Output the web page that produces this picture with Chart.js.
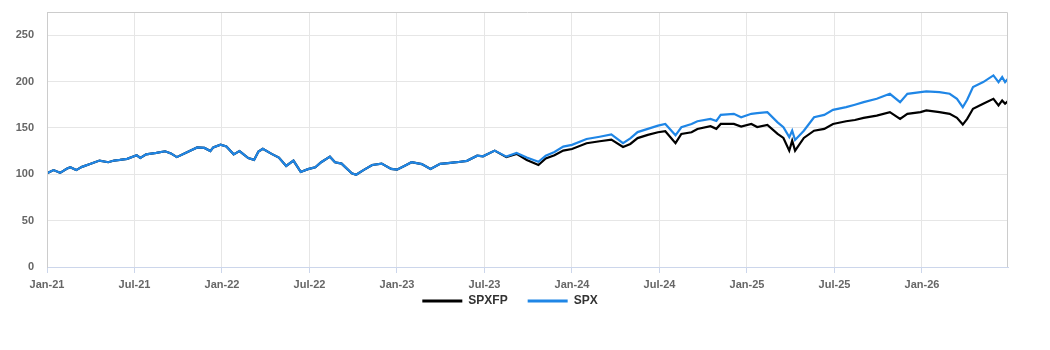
<!DOCTYPE html>
<html>
<head>
<meta charset="utf-8">
<script src="https://cdn.jsdelivr.net/npm/chart.js@4.4.1/dist/chart.umd.min.js"></script>
<style>
  html, body { margin: 0; padding: 0; background: #fff; }
  #wrap { width: 1050px; height: 350px; }
</style>
</head>
<body>
<div id="wrap"><canvas id="chart"></canvas></div>
<script>
// ---------- Datos ----------
// meses desde Jan-21
const months = [
  0, 0.45, 0.9, 1.35, 1.6, 2.0, 2.4, 2.95, 3.6, 4.2, 4.6, 5.0, 5.5, 6.15, 6.4, 6.8,
  7.5, 8.1, 8.5, 8.9, 9.6, 10.3, 10.8, 11.2, 11.4, 11.9, 12.3, 12.8, 13.2, 13.8, 14.2,
  14.5, 14.8, 15.4, 15.9, 16.4, 16.9, 17.4, 17.9, 18.4, 18.8, 19.4, 19.75, 20.2, 20.9,
  21.2, 21.7, 22.3, 22.95, 23.6, 24.0, 24.5, 25.0, 25.7, 26.3, 26.96, 27.5, 28.1, 28.8,
  29.5, 29.9, 30.7, 31.5, 32.2, 32.9, 33.7, 34.2, 34.8, 35.4, 36.0, 37.0, 37.9, 38.7,
  39.5, 40.0, 40.5, 41.2, 41.9, 42.4, 43.1, 43.5, 44.2, 44.6, 45.5, 45.9, 46.2, 47.1,
  47.6, 48.3, 48.7, 49.4, 50.1, 50.5, 50.9, 51.1, 51.3, 51.9, 52.6, 53.3, 53.9, 54.8,
  55.4, 56.0, 56.9, 57.8, 58.5, 59.0, 59.9, 60.3, 61.2, 61.9, 62.4, 62.8, 63.1, 63.5,
  64.2, 64.9, 65.25, 65.5, 65.7, 65.9
];

const spx = [
  101, 104.5, 101.5, 106, 107.5, 104.5, 108, 111, 114.8, 113, 114.8, 115.5, 116.6, 120.5, 117.6, 121.5,
  123, 124.8, 122.5, 118.5, 123.8, 129, 128.4, 125, 129, 132, 130, 121.5, 125, 117.5, 115.5,
  124.5, 127.4, 122, 118, 109, 114.8, 102.5, 105.5, 107.6, 113, 119, 113, 111.5, 101,
  99.5, 104.5, 110, 111.5, 105.8, 105, 109, 113, 111, 105.8, 111.2, 112, 113, 114.5,
  120, 119.4, 125.5, 119, 123, 118, 113.5, 120, 124, 129.9, 131.7, 138, 140.5, 143,
  133.5, 138.8, 145.5, 149, 152.5, 154.3, 142, 150.7, 154.3, 157.2, 159.7, 157.5, 164, 165.2,
  161.5, 165.2, 165.9, 167, 156, 150.7, 140, 147, 137, 147, 161.5, 164, 169.5, 172.4,
  175, 177.8, 181.4, 186.8, 177.8, 186.8, 188.6, 189.3, 188.6, 186.8, 181.4, 172.4, 180.3, 194,
  199.4, 206.6, 199.4, 204.8, 199.4, 203
];

const spxfp = [
  101, 104.5, 101.5, 106, 107.5, 104.5, 108, 111, 114.8, 113, 114.8, 115.5, 116.6, 120.5, 117.6, 121.5,
  123, 124.8, 122.5, 118.5, 123.8, 129, 128.4, 125, 129, 132, 130, 121.5, 125, 117.5, 115.5,
  124.5, 127.4, 122, 118, 109, 114.8, 102.5, 105.5, 107.6, 113, 119, 113, 111.5, 101,
  99.5, 104.5, 110, 111.5, 105.8, 105, 109, 113, 111, 105.8, 111.2, 112, 113, 114.5,
  120, 119.4, 125.5, 118.5, 122, 115.5, 110, 117, 120.5, 125.5, 127.3, 133.5, 135.6, 137.4,
  129.5, 132.7, 139, 142.5, 145.3, 146.4, 133.5, 143.5, 145.3, 148.9, 151.8, 149, 154.3, 154.3,
  151.4, 154.3, 151, 153.2, 143.5, 139.2, 125.5, 136.3, 125.5, 139.2, 147, 149, 154.3, 157.2,
  158.5, 160.8, 163.3, 167, 159.7, 165.2, 167, 168.8, 167, 165.2, 160.8, 153.6, 159.7, 170.6,
  176, 181.4, 174.2, 179.6, 176, 178.9
];

const tickMonths = [0, 6, 12, 18, 24, 30, 36, 42, 48, 54, 60];
const tickLabels = ["Jan-21", "Jul-21", "Jan-22", "Jul-22", "Jan-23", "Jul-23",
                    "Jan-24", "Jul-24", "Jan-25", "Jul-25", "Jan-26"];
const yTicks = [0, 50, 100, 150, 200, 250];

// ---------- Helpers ----------
function toPoints(vals) {
  return vals.map((v, i) => ({ x: months[i], y: v }));
}

// marco del área del gráfico + recolocar la leyenda
const frame = {
  id: 'frame',
  afterLayout(chart) {
    chart.legend.top -= 16;
    chart.legend.bottom -= 16;
    chart.legend.left += 6;
    chart.legend.right += 6;
  },
  afterDraw(chart) {
    const a = chart.chartArea, ctx = chart.ctx;
    ctx.save();
    ctx.strokeStyle = '#cccccc';
    ctx.lineWidth = 1;
    ctx.beginPath();
    ctx.moveTo(a.left + 0.5, a.bottom);
    ctx.lineTo(a.left + 0.5, a.top + 0.5);
    ctx.lineTo(a.right - 0.5, a.top + 0.5);
    ctx.lineTo(a.right - 0.5, a.bottom);
    ctx.stroke();
    ctx.restore();
  }
};

const FONT = "'Liberation Sans', Arial, sans-serif";

new Chart(document.getElementById('chart'), {
  type: 'line',
  data: {
    datasets: [
      { label: 'SPX', data: toPoints(spx), borderColor: '#1f86e6', backgroundColor: '#1f86e6',
        borderWidth: 2.2, pointRadius: 0, tension: 0 },
      { label: 'SPXFP', data: toPoints(spxfp), borderColor: '#000000', backgroundColor: '#000000',
        borderWidth: 2.2, pointRadius: 0, tension: 0 }
    ]
  },
  options: {
    responsive: true,
    maintainAspectRatio: false,
    animation: false,
    layout: { padding: { top: 12, right: 42, left: 0, bottom: 17 } },
    plugins: {
      tooltip: { enabled: false },
      legend: {
        position: 'bottom',
        reverse: true,
        labels: {
          boxWidth: 40, boxHeight: 3, padding: 20,
          color: '#333', font: { family: FONT, size: 12, weight: 'bold' },
          generateLabels(chart) {
            const items = Chart.defaults.plugins.legend.labels.generateLabels(chart);
            items.forEach(it => { it.lineWidth = 0; it.fillStyle = it.strokeStyle; });
            return items;
          }
        }
      }
    },
    scales: {
      x: {
        type: 'linear',
        min: 0, max: 65.9,
        afterBuildTicks(scale) { scale.ticks = tickMonths.map(v => ({ value: v })); },
        afterFit(scale) { scale.height = 24; scale.paddingLeft = 0; scale.paddingRight = 0; },
        ticks: {
          autoSkip: false, maxRotation: 0, padding: 5,
          color: '#666', font: { family: FONT, size: 11, weight: 'bold' },
          callback: (v) => tickLabels[tickMonths.indexOf(v)]
        },
        grid: { color: '#e6e6e6', tickColor: '#ccd6eb', tickLength: 6 },
        border: { color: '#ccd6eb' }
      },
      y: {
        min: 0, max: 275,
        afterBuildTicks(scale) { scale.ticks = yTicks.map(v => ({ value: v })); },
        afterFit(scale) { scale.width = 47; scale.paddingTop = 0; scale.paddingBottom = 0; },
        ticks: {
          padding: 13,
          color: '#666', font: { family: FONT, size: 11, weight: 'bold' }
        },
        grid: { color: '#e6e6e6', drawTicks: false },
        border: { color: '#cccccc' }
      }
    }
  },
  plugins: [frame]
});
</script>
</body>
</html>
